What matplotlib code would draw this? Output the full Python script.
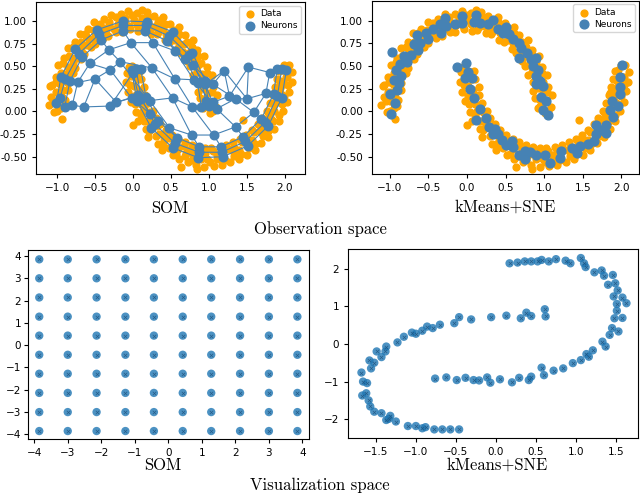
import numpy as np
import matplotlib.pyplot as plt

# ---- observation space data (two moons) ----
upper_x = [1.01, 0.98, 0.99, 0.94, 0.91, 0.86, 0.81, 0.75, 0.67, 0.58, 0.50, 0.40, 0.31, 0.20, 0.10, 0.01,
           -0.10, -0.20, -0.31, -0.40, -0.50, -0.58, -0.67, -0.75, -0.81, -0.86, -0.91, -0.96, -0.98, -1.00, -1.00,
           0.92, 0.88, 0.86, 0.85, 0.79, 0.75, 0.71, 0.63, 0.58, 0.48, 0.42, 0.31, 0.24, 0.13, 0.06,
           -0.04, -0.15, -0.22, -0.33, -0.40, -0.50, -0.56, -0.65, -0.69, -0.77, -0.79, -0.85, -0.86, -0.90, -0.91,
           1.09, 1.10, 1.05, 1.04, 0.97, 0.93, 0.84, 0.79, 0.68, 0.61, 0.49, 0.40, 0.27, 0.18, 0.05,
           -0.07, -0.16, -0.29, -0.38, -0.51, -0.59, -0.70, -0.77, -0.86, -0.91, -0.99, -1.02, -1.07, -1.08, -1.11,
           0.95, 0.93, 0.92, 0.90, 0.84, 0.80, 0.75, 0.66, 0.60, 0.53, 0.43, 0.33, 0.25, 0.16, 0.05,
           -0.05, -0.14, -0.25, -0.35, -0.43, -0.51, -0.60, -0.68, -0.74, -0.79, -0.85, -0.90, -0.92, -0.93, -0.95,
           1.05, 1.03, 1.04, 0.99, 0.97, 0.90, 0.86, 0.77, 0.71, 0.61, 0.54, 0.42, 0.33, 0.21, 0.12, -0.01,
           -0.11, -0.23, -0.31, -0.44, -0.52, -0.63, -0.69, -0.79, -0.84, -0.92, -0.95, -1.01, -1.02, -1.05, -1.04,
           -1.09, -0.93, 0.12, -0.62, 0.36]
upper_y = [-0.02, 0.12, 0.20, 0.32, 0.41, 0.51, 0.59, 0.66, 0.74, 0.82, 0.87, 0.92, 0.95, 0.99, 0.99, 1.01,
           0.99, 0.97, 0.95, 0.92, 0.87, 0.80, 0.74, 0.68, 0.59, 0.49, 0.41, 0.30, 0.21, 0.11, 0.00,
           0.04, 0.15, 0.22, 0.33, 0.40, 0.50, 0.56, 0.65, 0.69, 0.77, 0.79, 0.85, 0.86, 0.90, 0.89,
           0.91, 0.88, 0.88, 0.83, 0.81, 0.75, 0.71, 0.63, 0.58, 0.48, 0.42, 0.31, 0.24, 0.13, 0.06,
           0.05, 0.18, 0.27, 0.40, 0.49, 0.61, 0.68, 0.79, 0.84, 0.93, 0.97, 1.04, 1.05, 1.10, 1.09,
           1.11, 1.08, 1.07, 1.02, 0.99, 0.91, 0.86, 0.77, 0.70, 0.59, 0.51, 0.38, 0.29, 0.16, 0.07,
           0.06, 0.14, 0.26, 0.33, 0.44, 0.51, 0.61, 0.66, 0.75, 0.79, 0.86, 0.88, 0.93, 0.93, 0.96,
           0.94, 0.95, 0.91, 0.90, 0.84, 0.81, 0.73, 0.68, 0.59, 0.53, 0.42, 0.35, 0.24, 0.16, 0.04,
           0.01, 0.11, 0.21, 0.33, 0.42, 0.54, 0.61, 0.71, 0.77, 0.86, 0.90, 0.97, 0.99, 1.04, 1.03, 1.06,
           1.03, 1.04, 0.99, 0.97, 0.90, 0.86, 0.77, 0.71, 0.61, 0.54, 0.42, 0.33, 0.21, 0.12, -0.01,
           0.28, -0.08, 1.12, 0.83, 1.01]
lower_x = [-0.02, 0.03, 0.01, 0.05, 0.10, 0.13, 0.20, 0.24, 0.34, 0.41, 0.51, 0.59, 0.70, 0.79, 0.91, 0.98,
           1.11, 1.19, 1.32, 1.39, 1.51, 1.57, 1.68, 1.74, 1.82, 1.85, 1.92, 1.95, 1.99, 2.01, 1.99,
           0.09, 0.11, 0.15, 0.16, 0.20, 0.26, 0.30, 0.36, 0.43, 0.51, 0.59, 0.68, 0.77, 0.86, 0.95,
           1.03, 1.14, 1.23, 1.32, 1.41, 1.49, 1.57, 1.64, 1.70, 1.76, 1.80, 1.84, 1.87, 1.89, 1.92,
           -0.08, -0.09, -0.06, -0.03, 0.04, 0.06, 0.17, 0.20, 0.33, 0.38, 0.52, 0.61, 0.72, 0.83, 0.94,
           1.06, 1.17, 1.28, 1.39, 1.50, 1.60, 1.69, 1.78, 1.85, 1.92, 1.98, 2.03, 2.06, 2.09, 2.10,
           0.05, 0.07, 0.08, 0.12, 0.15, 0.21, 0.26, 0.32, 0.41, 0.48, 0.56, 0.67, 0.75, 0.84, 0.95,
           1.05, 1.16, 1.25, 1.33, 1.44, 1.52, 1.59, 1.68, 1.74, 1.79, 1.86, 1.88, 1.93, 1.94, 1.96,
           -0.05, -0.03, -0.04, 0.01, 0.03, 0.10, 0.15, 0.21, 0.30, 0.39, 0.47, 0.56, 0.68, 0.77, 0.89, 1.01,
           1.11, 1.21, 1.33, 1.42, 1.53, 1.61, 1.71, 1.78, 1.84, 1.92, 1.96, 1.99, 2.04, 2.03, 2.05,
           0.00, 0.84, 1.85, 1.45, 0.63]
lower_y = [0.50, 0.39, 0.28, 0.19, 0.08, 0.00, -0.10, -0.15, -0.25, -0.31, -0.38, -0.41, -0.46, -0.48, -0.50, -0.52,
           -0.48, -0.48, -0.44, -0.43, -0.36, -0.31, -0.23, -0.19, -0.08, 0.00, 0.10, 0.19, 0.30, 0.38, 0.51,
           0.45, 0.36, 0.27, 0.18, 0.09, 0.01, -0.07, -0.14, -0.20, -0.26, -0.30, -0.34, -0.37, -0.39, -0.40,
           -0.40, -0.39, -0.37, -0.34, -0.30, -0.26, -0.20, -0.14, -0.07, 0.01, 0.09, 0.18, 0.27, 0.36, 0.45,
           0.43, 0.33, 0.21, 0.11, -0.01, -0.10, -0.19, -0.28, -0.36, -0.42, -0.48, -0.53, -0.56, -0.59, -0.61,
           -0.60, -0.59, -0.56, -0.53, -0.48, -0.42, -0.35, -0.28, -0.19, -0.10, 0.01, 0.10, 0.22, 0.32, 0.44,
           0.44, 0.36, 0.24, 0.17, 0.06, -0.01, -0.11, -0.16, -0.25, -0.29, -0.36, -0.38, -0.43, -0.43, -0.46,
           -0.44, -0.45, -0.41, -0.40, -0.34, -0.31, -0.23, -0.18, -0.09, -0.03, 0.08, 0.15, 0.26, 0.34, 0.46,
           0.49, 0.39, 0.29, 0.17, 0.08, -0.04, -0.11, -0.21, -0.27, -0.36, -0.40, -0.47, -0.49, -0.54, -0.53, -0.56,
           -0.53, -0.54, -0.49, -0.47, -0.40, -0.36, -0.27, -0.21, -0.11, -0.04, 0.08, 0.17, 0.29, 0.38, 0.51,
           -0.15, -0.63, 0.20, -0.09, -0.61]

# ---- SOM neurons in observation space (10x10 grid, row by row) ----
som_x = [
    [-1.01, -0.95, -0.76, -0.48, -0.13, 0.18, 0.52, 0.78, 0.95, 1.00],
    [-0.96, -0.89, -0.71, -0.45, -0.13, 0.17, 0.48, 0.74, 0.90, 0.96],
    [-0.90, -0.83, -0.67, -0.42, -0.13, 0.16, 0.45, 0.69, 0.85, 0.90],
    [-0.80, -0.73, -0.57, -0.32, -0.03, 0.26, 0.55, 0.79, 0.95, 1.05],
    [-0.65, -0.50, -0.30, -0.17, 0.25, 0.55, 0.80, 1.05, 1.20, 1.27],
    [-0.30, -0.22, -0.02, 0.22, 0.52, 0.78, 1.10, 1.35, 1.50, 1.52],
    [0.00, 0.07, 0.23, 0.48, 0.77, 1.06, 1.35, 1.59, 1.75, 1.80],
    [0.10, 0.17, 0.33, 0.58, 0.87, 1.16, 1.45, 1.69, 1.85, 1.90],
    [0.04, 0.11, 0.29, 0.55, 0.87, 1.17, 1.48, 1.74, 1.90, 1.96],
    [-0.02, 0.05, 0.24, 0.52, 0.86, 1.18, 1.51, 1.78, 1.96, 2.02],
]
som_y = [
    [0.09, 0.38, 0.69, 0.90, 1.00, 0.99, 0.88, 0.65, 0.34, 0.06],
    [0.15, 0.36, 0.64, 0.85, 0.95, 0.95, 0.83, 0.62, 0.33, 0.12],
    [0.05, 0.34, 0.60, 0.79, 0.89, 0.89, 0.78, 0.58, 0.31, 0.05],
    [0.07, 0.32, 0.53, 0.68, 0.76, 0.76, 0.67, 0.51, 0.30, 0.10],
    [0.05, 0.36, 0.46, 0.55, 0.48, 0.36, 0.35, 0.30, 0.45, 0.17],
    [0.06, 0.10, 0.15, 0.12, 0.15, 0.05, 0.03, 0.14, 0.14, 0.49],
    [0.43, 0.18, -0.03, -0.18, -0.26, -0.26, -0.17, -0.01, 0.20, 0.43],
    [0.47, 0.16, -0.10, -0.29, -0.39, -0.39, -0.28, -0.08, 0.19, 0.47],
    [0.47, 0.14, -0.14, -0.35, -0.45, -0.45, -0.33, -0.12, 0.17, 0.47],
    [0.46, 0.12, -0.18, -0.40, -0.51, -0.50, -0.38, -0.16, 0.15, 0.46],
]

# ---- kMeans centers in observation space ----
km_x = [-0.97, -0.92, -0.95, -0.91, -1.00, -0.93, -0.98, -0.88, -0.85, -0.87, -0.81, -0.78, -0.72, -0.69,
        -0.65, -0.61, -0.64, -0.53, -0.50, -0.44, -0.35, -0.34, -0.27, -0.29, -0.16, -0.07, -0.06, 0.09,
        0.12, 0.17, 0.27, 0.34, 0.40, 0.46, 0.51, 0.55, 0.60, 0.67, 0.70, 0.67, 0.78, 0.83, 0.90, 0.86,
        0.92, 0.90, 0.94, 0.90, 0.99, 0.96, 1.03, 0.99, 1.05,
        -0.13, -0.01, 0.01, -0.02, 0.07, 0.04, 0.09, 0.17, 0.12, 0.25, 0.28, 0.34, 0.40, 0.36, 0.45, 0.51,
        0.58, 0.59, 0.67, 0.75, 0.75, 0.81, 0.90, 1.01, 1.07, 1.21, 1.22, 1.36, 1.42, 1.47, 1.57, 1.65,
        1.67, 1.67, 1.73, 1.80, 1.80, 1.85, 1.89, 1.88, 1.96, 1.98, 1.98, 1.98, 2.01]
km_y = [0.66, 0.46, 0.35, 0.24, 0.19, 0.09, -0.03, 0.31, 0.39, 0.52, 0.61, 0.54, 0.62, 0.74,
        0.84, 0.76, 0.68, 0.86, 0.80, 0.91, 0.96, 0.87, 0.94, 1.03, 0.96, 1.05, 0.97, 0.99,
        1.06, 0.98, 0.96, 1.01, 0.91, 0.87, 0.93, 0.85, 0.80, 0.76, 0.70, 0.59, 0.65, 0.58, 0.59, 0.50,
        0.46, 0.39, 0.34, 0.30, 0.28, 0.16, 0.11, 0.02, -0.04,
        0.49, 0.53, 0.43, 0.37, 0.37, 0.25, 0.15, 0.03, -0.09, -0.07, -0.17, -0.25, -0.25, -0.19, -0.32, -0.37,
        -0.33, -0.39, -0.48, -0.44, -0.52, -0.45, -0.48, -0.48, -0.57, -0.51, -0.44, -0.40, -0.46, -0.38, -0.36, -0.33,
        -0.25, -0.15, -0.20, -0.24, -0.15, 0.02, -0.06, 0.11, 0.06, 0.19, 0.27, 0.38, 0.51]

# ---- visualization space ----
grid_vals = [-3.85, -3.0, -2.14, -1.28, -0.43, 0.43, 1.28, 2.14, 3.0, 3.85]

sne_x = [0.17, 0.27, 0.36, 0.44, 0.52, 0.57, 0.66, 0.75, 0.87, 0.93, 1.06, 1.10, 1.12, 1.23, 1.32, 1.35,
         1.46, 1.49, 1.40, 1.52, 1.47, 1.51, 1.58, 1.63, 1.51, 1.48, 1.58, 1.45, 1.53, 1.42, 1.33, 1.37,
         1.21, 1.16, 1.13, 1.06, 0.96, 0.84, 0.72, 0.60, 0.57, 0.44, 0.41, 0.29, 0.20, 0.05, -0.07, -0.11,
         -0.21, -0.28, -0.38, -0.49, -0.62, -0.76,
         0.61, 0.62, 0.44, 0.38, 0.31, 0.13, -0.06, -0.31, -0.46, -0.52, -0.70, -0.79, -0.86, -0.92, -1.00,
         -1.05, -1.15, -1.23, -1.37, -1.38, -1.49, -1.43, -1.52, -1.58, -1.56, -1.68, -1.66, -1.61, -1.67,
         -1.62, -1.59, -1.57, -1.52, -1.43, -1.37, -1.32, -1.34, -1.25, -1.10, -1.00, -0.92, -0.88, -0.77,
         -0.67, -0.57, -0.46]
sne_y = [2.14, 2.16, 2.19, 2.19, 2.19, 2.23, 2.19, 2.25, 2.21, 2.14, 2.28, 2.14, 2.04, 1.90, 1.95, 1.81,
         1.83, 1.61, 1.57, 1.42, 1.26, 1.06, 1.23, 1.08, 0.88, 0.68, 0.69, 0.42, 0.33, 0.24, 0.06, -0.07,
         -0.17, -0.34, -0.27, -0.43, -0.51, -0.65, -0.71, -0.83, -0.63, -0.87, -0.96, -0.90, -1.02, -0.94, -1.03, -0.89,
         -0.97, -0.96, -0.90, -0.96, -0.89, -0.92,
         0.92, 0.73, 0.74, 0.83, 0.68, 0.75, 0.71, 0.65, 0.71, 0.55, 0.51, 0.42, 0.46, 0.35, 0.27,
         0.30, 0.19, 0.04, -0.07, -0.20, -0.20, -0.35, -0.50, -0.44, -0.65, -0.76, -1.00, -1.04, -1.37,
         -1.31, -1.50, -1.66, -1.80, -1.84, -2.02, -1.91, -1.99, -2.06, -2.18, -2.18, -2.24, -2.21, -2.27,
         -2.27, -2.27, -2.27]

ORANGE = '#ffa500'
STEEL = '#4682b4'
TAB = '#1f77b4'

fig = plt.figure(figsize=(6.4, 4.95), dpi=100)
ax1 = fig.add_axes([0.056, 0.6485, 0.420, 0.347])
ax2 = fig.add_axes([0.581, 0.6485, 0.417, 0.350])
ax3 = fig.add_axes([0.043, 0.113, 0.440, 0.382])
ax4 = fig.add_axes([0.544, 0.115, 0.453, 0.382])

data_x = upper_x + lower_x
data_y = upper_y + lower_y
sx = np.array(som_x)
sy = np.array(som_y)

# SOM in observation space
ax1.scatter(data_x, data_y, s=24, color=ORANGE, label='Data', zorder=1)
for r in range(sx.shape[0]):
    ax1.plot(sx[r], sy[r], color=STEEL, lw=0.8, zorder=2)
for c in range(sx.shape[1]):
    ax1.plot(sx[:, c], sy[:, c], color=STEEL, lw=0.8, zorder=2)
ax1.scatter(sx.ravel(), sy.ravel(), s=38, color=STEEL, label='Neurons', zorder=3)
ax1.set_xlim(-1.28, 2.26)
ax1.set_ylim(-0.69, 1.206)

# kMeans in observation space
ax2.scatter(data_x, data_y, s=24, color=ORANGE, label='Data', zorder=1)
ax2.scatter(km_x, km_y, s=40, color=STEEL, label='Neurons', zorder=3)
ax2.set_xlim(-1.233, 2.225)
ax2.set_ylim(-0.69, 1.221)

for ax in (ax1, ax2):
    ax.set_xticks([-1.0, -0.5, 0.0, 0.5, 1.0, 1.5, 2.0])
    ax.set_yticks([-0.5, -0.25, 0.0, 0.25, 0.5, 0.75, 1.0])
    ax.set_yticklabels(['%.2f' % v for v in [-0.5, -0.25, 0.0, 0.25, 0.5, 0.75, 1.0]])
    ax.legend(loc='upper right', fontsize=6.5, borderpad=0.4, handletextpad=0.3,
              labelspacing=0.3, handlelength=1.6, borderaxespad=0.4)

# SOM visualization space
gx, gy = np.meshgrid(grid_vals, grid_vals)
ax3.scatter(gx.ravel(), gy.ravel(), s=36, color=TAB, alpha=0.8, edgecolors='none')
ax3.scatter(gx.ravel(), gy.ravel(), s=6, marker='x', color='#1b4f7a', linewidths=0.5, alpha=0.8)
ax3.set_xlim(-4.2, 4.2)
ax3.set_ylim(-4.21, 4.27)
ax3.set_xticks(range(-4, 5))
ax3.set_yticks(range(-4, 5))

# kMeans+SNE visualization space
ax4.scatter(sne_x, sne_y, s=36, color=TAB, alpha=0.8, edgecolors='none')
ax4.scatter(sne_x, sne_y, s=6, marker='x', color='#1b4f7a', linewidths=0.5, alpha=0.8)
ax4.set_xlim(-1.846, 1.775)
ax4.set_ylim(-2.50, 2.52)
ax4.set_xticks([-1.5, -1.0, -0.5, 0.0, 0.5, 1.0, 1.5])
ax4.set_yticks([-2, -1, 0, 1, 2])

for ax in (ax1, ax2, ax3, ax4):
    ax.tick_params(labelsize=7.5, length=3, width=0.8)
    for sp in ax.spines.values():
        sp.set_linewidth(0.8)
ax3.tick_params(axis='y', pad=1.5)

cm = dict(family='cmr10', ha='center', va='center')
fig.text(170 / 640, 1 - 208 / 495, 'SOM', fontsize=12, **cm)
fig.text(505 / 640, 1 - 207 / 495, 'kMeans+SNE', fontsize=12, **cm)
fig.text(320 / 640, 1 - 229 / 495, 'Observation space', fontsize=12, **cm)
fig.text(163 / 640, 1 - 465 / 495, 'SOM', fontsize=12, **cm)
fig.text(497 / 640, 1 - 465 / 495, 'kMeans+SNE', fontsize=12, **cm)
fig.text(320 / 640, 1 - 485 / 495, 'Visualization space', fontsize=12, **cm)

fig.savefig('out.png', dpi=100)
